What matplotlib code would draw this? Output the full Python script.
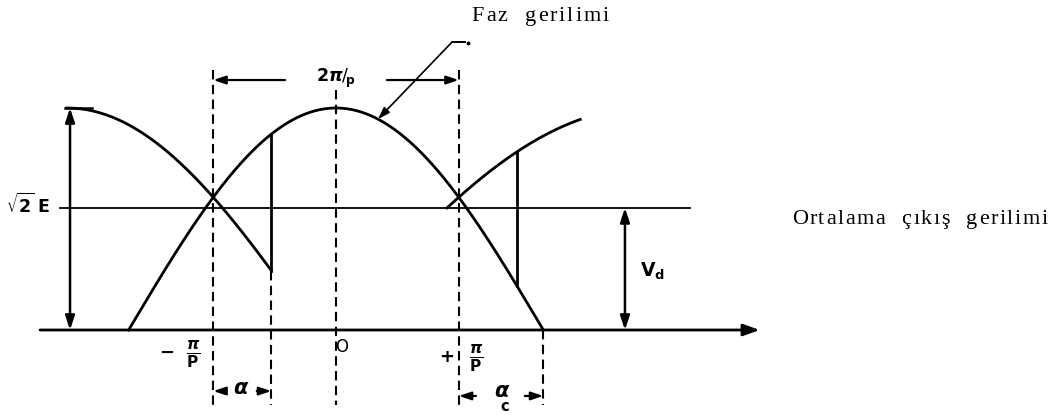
import numpy as np
import matplotlib
matplotlib.use("Agg")
import matplotlib.pyplot as plt
from matplotlib import font_manager
from matplotlib.ft2font import FT2Font

# ---- waveform description (phase angle in rad, voltage normalised so that sqrt(2)E = 1)
half_pitch = 0.93          # pi/p : half of the commutation interval 2pi/p
alpha = 0.44               # firing delay angle
vd_level = 0.55            # mean output voltage Vd
prev_phase_stretch = 0.84  # horizontal scale of the preceding phase voltage
next_phase_stretch = 0.66  # horizontal scale of the following phase voltage
next_phase_end = 1.85      # where the following phase voltage is drawn to

# ---- texts
title_text = "Faz  gerilimi"
mean_text = "Ortalama  çıkış  gerilimi"
period_label = r"$\mathbf{2}\boldsymbol{\pi}/_{\!\mathbf{p}}$"
amp_label = r"$\mathbf{\sqrt{2}\;E}$"
vd_label = r"$\mathbf{V}_{\mathbf{d}}$"
frac_label = r"$\frac{\boldsymbol{\pi}}{\mathbf{P}}$"
alpha_label = r"$\boldsymbol{\alpha}$"

W, H, DPI = 1049, 415, 100
plt.rcParams["mathtext.fontset"] = "dejavusans"

fig = plt.figure(figsize=(W / DPI, H / DPI), dpi=DPI)
ax = fig.add_axes([0, 0, 1, 1])
# 132 px per rad horizontally, 222 px per unit vertically, origin at (336, 330) px
ax.set_xlim(-336 / 132, (W - 336) / 132)
ax.set_ylim((330 - H) / 222, 330 / 222)
ax.axis("off")

K = "black"
LW = 2.0
dash = (0, (4.5, 2.6))

P = half_pitch
xa = -P + alpha
xb = P + alpha
xc_prev = -P - P / prev_phase_stretch
xc_next = P + P / next_phase_stretch


def prev_phase(x):
    return np.cos(prev_phase_stretch * (x - xc_prev))


def next_phase(x):
    return np.cos(next_phase_stretch * (x - xc_next))


# phase voltages
xc = np.linspace(-np.pi / 2, np.pi / 2, 400)
ax.plot(xc, np.cos(xc), color=K, lw=LW)
xl = np.linspace(xc_prev, xa, 300)
ax.plot(xl, prev_phase(xl), color=K, lw=LW)
x_next0 = xc_next - np.arccos(vd_level) / next_phase_stretch
xr = np.linspace(x_next0, next_phase_end, 300)
ax.plot(xr, next_phase(xr), color=K, lw=LW)

# commutation jumps
ax.plot([xa, xa], [prev_phase(xa), np.cos(xa)], color=K, lw=LW)
ax.plot([xb, xb], [np.cos(xb), next_phase(xb)], color=K, lw=LW)

# mean output voltage level
ax.plot([-2.09, 2.68], [vd_level, vd_level], color=K, lw=1.3)

# horizontal axis with arrow
ax.annotate("", xy=(3.21, 0), xytext=(-2.242, 0),
            arrowprops=dict(arrowstyle="-|>,head_length=0.7,head_width=0.25",
                            lw=2.0, color=K, shrinkA=0, shrinkB=0,
                            mutation_scale=14))

# dashed reference lines
y_bot = -0.338
ax.plot([-P, -P], [1.171, y_bot], color=K, lw=1.5, ls=dash)
ax.plot([P, P], [1.171, y_bot], color=K, lw=1.5, ls=dash)
ax.plot([0, 0], [1.08, y_bot], color=K, lw=1.5, ls=dash)
ax.plot([xa, xa], [prev_phase(xa), y_bot], color=K, lw=1.5, ls=dash)
ax.plot([np.pi / 2, np.pi / 2], [0, y_bot], color=K, lw=1.5, ls=dash)

dim_arrow = dict(arrowstyle="<|-|>,head_length=0.6,head_width=0.2",
                 lw=1.8, color=K, shrinkA=0, shrinkB=0, mutation_scale=14)
one_arrow = dict(arrowstyle="-|>,head_length=0.6,head_width=0.2",
                 lw=1.6, color=K, shrinkA=0, shrinkB=0, mutation_scale=12)

# amplitude sqrt(2)E
x_amp = -2.015
ax.annotate("", xy=(x_amp, 1.0), xytext=(x_amp, 0), arrowprops=dim_arrow)
ax.plot([-2.053, -1.848], [1.0, 1.0], color=K, lw=1.8)
ax.text(-2.33, 0.565, amp_label, fontsize=12.5, ha="center", va="center")

# Vd
x_vd = 2.189
ax.annotate("", xy=(x_vd, vd_level), xytext=(x_vd, 0), arrowprops=dim_arrow)
ax.text(2.40, 0.265, vd_label, fontsize=13.5, ha="center", va="center")

# 2pi/p interval
y_top = 1.126
ax.annotate("", xy=(-P, y_top), xytext=(-0.386, y_top), arrowprops=one_arrow)
ax.annotate("", xy=(P, y_top), xytext=(0.386, y_top), arrowprops=one_arrow)
ax.text(0.0, 1.135, period_label, fontsize=12.5, ha="center", va="center")

# axis labels under the origin and +-pi/p
ax.text(-1.28, -0.104, "−", fontsize=13, fontweight="bold", ha="center", va="center")
ax.text(-1.083, -0.11, frac_label, fontsize=16, ha="center", va="center")
ax.text(0.045, -0.075, "O", fontsize=12, ha="center", va="center")
ax.text(0.835, -0.12, "+", fontsize=13, fontweight="bold", ha="center", va="center")
ax.text(1.06, -0.125, frac_label, fontsize=16, ha="center", va="center")

# alpha dimension
y_a = -0.275
ax.annotate("", xy=(-P, y_a), xytext=(-0.84, y_a), arrowprops=one_arrow)
ax.annotate("", xy=(xa, y_a), xytext=(-0.60, y_a), arrowprops=one_arrow)
ax.text(-0.72, -0.26, alpha_label, fontsize=15, ha="center", va="center")

# alpha_c dimension
y_c = -0.297
ax.annotate("", xy=(P, y_c), xytext=(1.06, y_c), arrowprops=one_arrow)
ax.annotate("", xy=(np.pi / 2, y_c), xytext=(1.43, y_c), arrowprops=one_arrow)
ax.text(1.262, -0.275, alpha_label, fontsize=15, ha="center", va="center")
ax.text(1.278, -0.345, "c", fontsize=10.5, fontweight="bold", ha="center", va="center")

# leader to the phase voltage
x_lead = 0.318
ax.annotate("", xy=(x_lead, np.cos(x_lead)), xytext=(0.879, 1.297),
            arrowprops=dict(arrowstyle="-|>,head_length=0.6,head_width=0.2",
                            lw=1.2, color=K, shrinkA=0, shrinkB=0,
                            mutation_scale=12))
ax.plot([0.879, 0.977], [1.297, 1.297], color=K, lw=1.4)
ax.plot([1.0], [1.293], marker="o", ms=1.8, color=K)


def spaced_text(s, left_px, right_px, baseline_px, size=16,
                family="Liberation Serif"):
    """Write s glyph by glyph so that it spans left_px..right_px."""
    prop = font_manager.FontProperties(family=family, size=size)
    ft = FT2Font(font_manager.findfont(prop), hinting_factor=1)
    ft.set_size(size, DPI)
    adv = [ft.load_char(ord(c)).linearHoriAdvance / 65536 for c in s]
    extra = (right_px - left_px - sum(adv)) / (len(s) - 1)
    x = left_px
    for c, a in zip(s, adv):
        if c != " ":
            fig.text(x / W, 1 - baseline_px / H, c, fontproperties=prop,
                     ha="left", va="baseline", color=K)
        x += a + extra


spaced_text(title_text, 471.7, 608.5, 20.7)
spaced_text(mean_text, 791.7, 1047.5, 224.3)

fig.savefig("out.png", dpi=DPI, facecolor="white")
